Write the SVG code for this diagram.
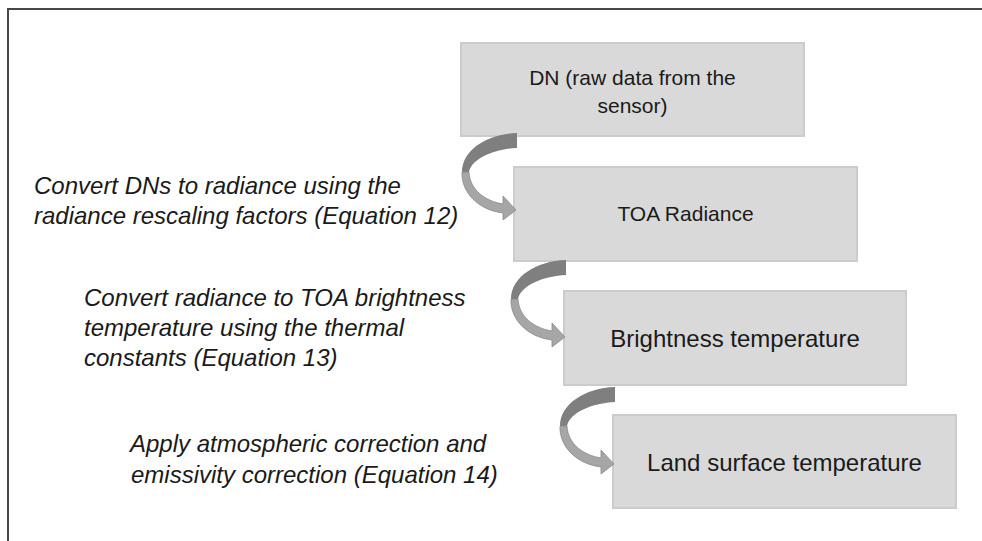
<svg xmlns="http://www.w3.org/2000/svg" width="982" height="541" viewBox="0 0 982 541">
  <style>
    .frame { stroke: #464646; stroke-width: 2; fill: none; }
    .box { fill: #d9d9d9; stroke: #cccccc; stroke-width: 2; }
    .boxtext { font-family: "Liberation Sans", Arial, sans-serif; font-size: 21px; fill: #1a1a1a; text-anchor: middle; }
    .big { font-size: 24px; }
    .note { font-family: "Liberation Sans", Arial, sans-serif; font-size: 24px; font-style: italic; fill: #1a1a1a; }
    .arrow-back { fill: #7f7f7f; }
    .arrow-front { fill: #a6a6a6; stroke: #8a8a8a; stroke-width: 0.8; }
  </style>
  <defs>
    <!-- curved right arrow, origin at the upper (tail) end -->
    <g id="curved-arrow">
      <path class="arrow-back" d="M0,0 L0,15 C-22,16 -45,25 -48,39 L-55,39 C-55,17 -30,1 0,0 Z"/>
      <path class="arrow-front" d="M-55,39 C-56,59 -39,77 -14,80 L-14,87 L-1,77 L-14,63 L-14,71 C-32,68 -47,57 -48,39 Z"/>
    </g>
  </defs>

  <rect width="982" height="541" fill="#ffffff"/>
  <path class="frame" d="M8,541 L8,9 L982,9"/>

  <g id="node-dn">
    <rect class="box" x="461" y="43" width="343" height="93"/>
    <text class="boxtext" x="632.5" y="85">DN (raw data from the</text>
    <text class="boxtext" x="632.5" y="113">sensor)</text>
  </g>
  <g id="node-toa-radiance">
    <rect class="box" x="514" y="167" width="343" height="94"/>
    <text class="boxtext" x="685.5" y="221">TOA Radiance</text>
  </g>
  <g id="node-brightness">
    <rect class="box" x="564" y="291" width="342" height="94"/>
    <text class="boxtext big" x="735" y="347">Brightness temperature</text>
  </g>
  <g id="node-lst">
    <rect class="box" x="613" y="415" width="343" height="93"/>
    <text class="boxtext big" x="784.5" y="471">Land surface temperature</text>
  </g>

  <g id="connectors">
    <use href="#curved-arrow" transform="translate(517,133)"/>
    <use href="#curved-arrow" transform="translate(566,260)"/>
    <use href="#curved-arrow" transform="translate(615,387)"/>
  </g>

  <g id="labels">
    <text class="note" x="34" y="194">Convert DNs to radiance using the</text>
    <text class="note" x="34" y="224">radiance rescaling factors (Equation 12)</text>
    <text class="note" x="84" y="306">Convert radiance to TOA brightness</text>
    <text class="note" x="84" y="336">temperature using the thermal</text>
    <text class="note" x="84" y="366">constants (Equation 13)</text>
    <text class="note" x="130" y="452">Apply atmospheric correction and</text>
    <text class="note" x="131" y="483">emissivity correction (Equation 14)</text>
  </g>
</svg>
